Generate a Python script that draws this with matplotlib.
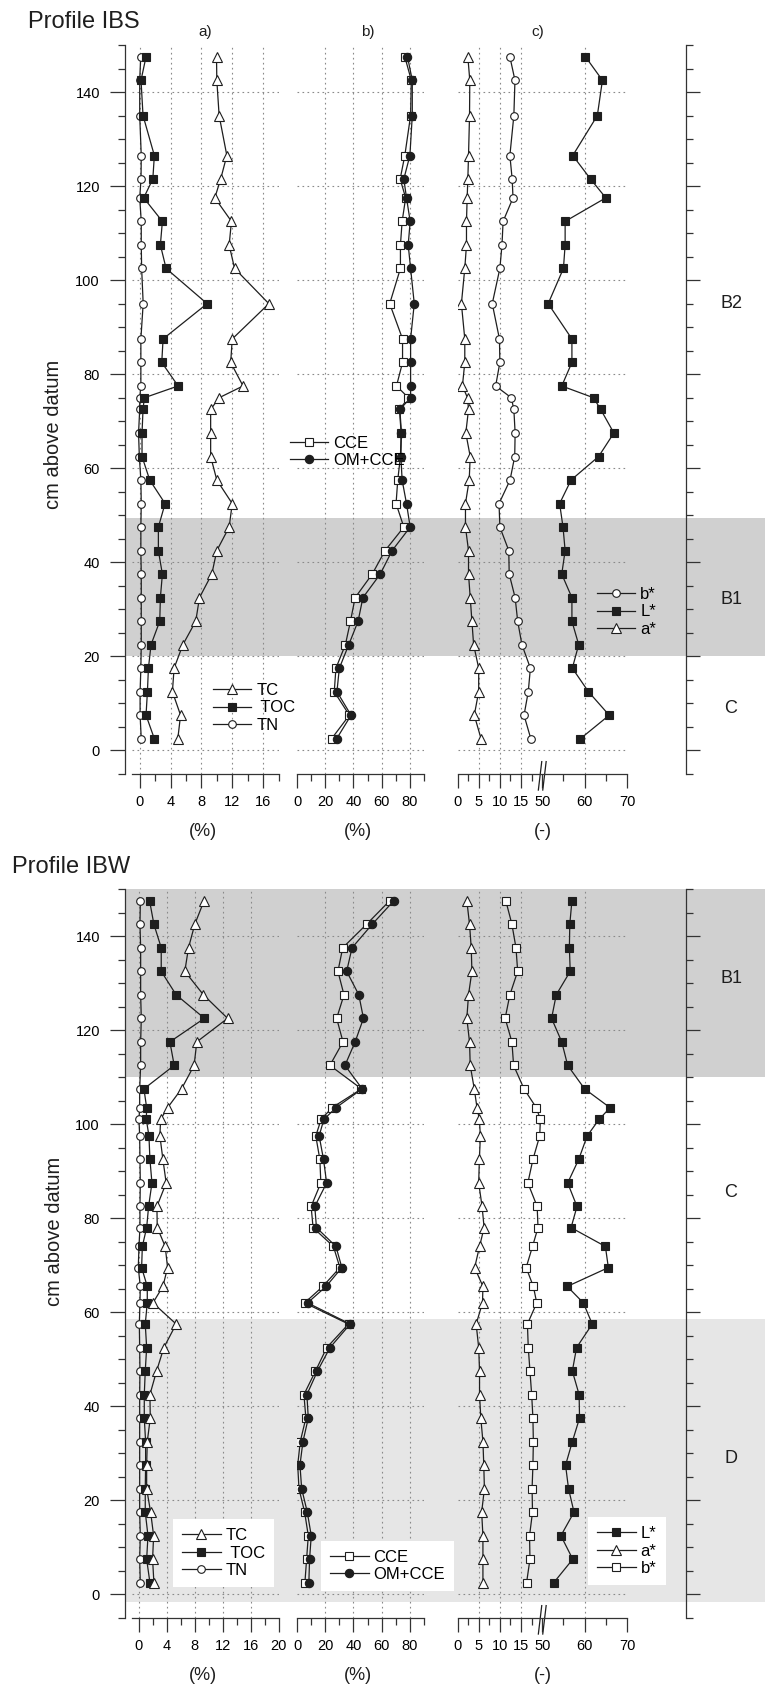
import numpy as np
import matplotlib.pyplot as plt
from matplotlib.ticker import MultipleLocator, FixedLocator
from matplotlib.transforms import blended_transform_factory

plt.rcParams['font.family'] = ['Liberation Sans', 'DejaVu Sans']

# %% data (depth in cm above datum)

ibs_depth = [2.5, 7.5, 12.5, 17.5, 22.5, 27.5, 32.5, 37.5, 42.5, 47.5, 52.5, 57.5, 62.5, 67.5, 72.5,
             75, 77.5, 82.5, 87.5, 95, 102.5, 107.5, 112.5, 117.5, 121.5, 126.5, 135, 142.5, 147.5]
ibs_tn = [0.2, 0.05, 0.05, 0.15, 0.2, 0.2, 0.2, 0.2, 0.15, 0.15, 0.2, 0.15, -0.05, -0.15, 0.0,
          0.0, 0.15, 0.15, 0.15, 0.45, 0.25, 0.2, 0.2, 0.0, 0.17, 0.2, 0.0, 0.0, 0.13]
ibs_toc = [1.9, 0.82, 1.0, 1.13, 1.47, 2.6, 2.68, 2.94, 2.42, 2.42, 3.29, 1.3, 0.3, 0.3, 0.43,
           0.6, 4.98, 2.86, 3.03, 8.74, 3.42, 2.68, 2.94, 0.52, 1.7, 1.9, 0.43, 0.17, 0.82]
ibs_tc = [4.94, 5.3, 4.24, 4.46, 5.6, 7.27, 7.75, 9.35, 10.0, 11.6, 12.0, 10.0, 9.2, 9.2, 9.2,
          10.3, 13.4, 11.8, 12.0, 16.75, 12.3, 11.6, 11.9, 9.74, 10.5, 11.3, 10.3, 10.0, 9.96]
ibs_cce = [24.5, 37.1, 26.4, 27.6, 34.3, 37.9, 41.2, 53.3, 62.4, 75.7, 70.2, 71.4, 73.3, 73.8, 72.6,
           79.0, 70.5, 74.8, 74.8, 65.7, 73.3, 73.3, 74.5, 77.0, 73.1, 76.4, 80.5, 81.0, 76.4]
ibs_om_cce = [28.1, 38.3, 28.3, 30.0, 36.7, 43.3, 46.7, 59.0, 67.4, 80.2, 77.6, 74.5, 73.6, 74.0, 72.9,
              80.5, 80.5, 80.5, 80.5, 83.1, 80.5, 78.8, 80.2, 77.6, 75.7, 80.0, 81.7, 81.7, 78.3]
ibs_a = [5.56, 3.96, 5.0, 5.0, 3.8, 3.4, 3.0, 2.6, 2.6, 1.88, 1.88, 2.76, 3.0, 1.96, 2.6,
         2.36, 1.16, 1.72, 1.72, 0.92, 1.72, 2.12, 2.12, 2.28, 2.44, 2.6, 2.84, 2.9, 2.44]
ibs_b = [17.3, 15.7, 16.7, 17.2, 15.2, 14.2, 13.6, 12.2, 12.1, 10.0, 9.8, 12.4, 13.5, 13.6, 13.3,
         12.7, 9.0, 10.0, 9.9, 8.2, 10.0, 10.5, 10.76, 13.1, 12.9, 12.36, 13.3, 13.56, 12.36]
ibs_l = [59.0, 65.8, 60.9, 57.1, 58.6, 57.0, 57.0, 54.6, 55.4, 54.9, 54.1, 56.8, 63.3, 66.9, 63.8,
         62.1, 54.6, 57.0, 57.0, 51.4, 55.0, 55.4, 55.4, 65.0, 61.4, 57.2, 63.0, 64.2, 60.2]

ibw_depth = [2.5, 7.5, 12.5, 17.5, 22.5, 27.5, 32.5, 37.5, 42.5, 47.5, 52.5, 57.5, 62, 65.5, 69.5, 74,
             78, 82.5, 87.5, 92.5, 97.5, 101, 103.5, 107.5, 112.5, 117.5, 122.5, 127.5, 132.5, 137.5,
             142.5, 147.5]
ibw_tn = [0.19, 0.1, 0.19, 0.1, 0.1, 0.1, 0.1, 0.1, 0.1, 0.14, 0.1, 0.05, 0.14, 0.19, -0.1, 0.0,
          0.14, 0.14, 0.19, 0.14, 0.1, 0.0, 0.1, 0.1, 0.24, 0.24, 0.33, 0.24, 0.24, 0.24, 0.14, 0.2]
ibw_toc = [1.57, 1.1, 1.29, 0.9, 0.9, 0.95, 0.95, 0.76, 0.76, 0.9, 1.1, 0.9, 1.19, 1.19, 0.38, 0.48,
           1.1, 1.38, 1.86, 1.57, 1.43, 1.05, 1.1, 0.71, 5.05, 4.43, 9.38, 5.33, 3.19, 3.19, 2.14, 1.52]
ibw_tc = [2.14, 1.95, 2.1, 1.67, 1.1, 1.1, 1.19, 1.62, 1.57, 2.52, 3.57, 5.33, 2.0, 3.43, 4.1, 3.76,
          2.62, 2.57, 3.9, 3.43, 3.0, 3.1, 4.1, 6.1, 7.9, 8.29, 12.7, 9.24, 6.57, 7.1, 8.0, 9.33]
ibw_cce = [5.6, 6.8, 8.0, 5.4, 1.4, 0.5, 2.3, 6.3, 4.9, 13.1, 21.1, 36.5, 5.4, 18.3, 30.4, 25.8,
           11.4, 10.0, 16.9, 16.2, 13.3, 17.1, 24.8, 45.7, 23.3, 32.6, 28.1, 33.3, 29.0, 32.4, 49.3, 65.7]
ibw_om_cce = [8.4, 8.9, 10.1, 7.3, 3.3, 2.1, 4.2, 8.0, 7.0, 14.5, 23.4, 37.7, 7.5, 20.6, 31.8, 27.6,
              13.8, 12.6, 21.0, 18.8, 15.7, 19.0, 27.6, 46.2, 34.0, 41.2, 47.1, 43.8, 35.2, 39.0, 53.3, 68.6]
ibw_a = [6.0, 6.0, 6.0, 5.7, 6.35, 6.2, 6.0, 5.5, 5.2, 5.2, 5.0, 4.4, 5.9, 6.0, 4.05, 5.2,
         6.28, 5.8, 5.0, 5.16, 5.4, 5.16, 4.6, 3.96, 3.0, 2.84, 2.2, 2.6, 3.4, 3.24, 2.84, 2.2]
ibw_b = [16.3, 17.1, 17.0, 17.7, 17.6, 17.8, 17.9, 17.8, 17.5, 17.1, 16.7, 16.5, 18.7, 17.9, 16.2, 17.7,
         19.0, 18.8, 16.6, 17.8, 19.4, 19.56, 18.6, 15.7, 13.24, 12.84, 11.24, 12.36, 14.2, 13.8, 12.84, 11.4]
ibw_l = [52.7, 57.2, 54.4, 57.5, 56.2, 55.5, 57.1, 58.8, 58.7, 57.1, 58.1, 61.8, 59.7, 55.9, 65.6, 64.9,
         56.8, 58.2, 56.0, 58.6, 60.6, 63.4, 66.0, 60.0, 56.0, 54.6, 52.2, 53.3, 56.6, 56.4, 56.5, 57.0]

ibs_horizons = ['B2', 'B1', 'C']
ibs_horizon_depth = [95, 32, 9]
ibs_bands = [(20, 49.5, '#d0d0d0')]
ibw_horizons = ['B1', 'C', 'D']
ibw_horizon_depth = [131, 85.5, 29]
ibw_bands = [(110, 150, '#d0d0d0'), (-1.5, 58.5, '#e6e6e6')]

# %% layout helpers (pixel boxes on a 765 x 1691 canvas)

W, H = 765, 1691
INK = '#1e1e1e'
GRID = dict(color='#8a8a8a', lw=0.8, ls=(0, (1.5, 3)))


def fbox(x0, y0, x1, y1):
    return [x0 / W, 1 - y1 / H, (x1 - x0) / W, (y1 - y0) / H]


def fpt(x, y):
    return (x / W, 1 - y / H)


def fwd(v):
    v = np.asarray(v, dtype=float)
    return np.where(v <= 20, v, np.where(v >= 50, v - 30, 20.0))


def inv(u):
    u = np.asarray(u, dtype=float)
    return np.where(u < 20, u, u + 30)


def line(ax, x, y, kind, label):
    styles = {'tri': dict(marker='^', mfc='white', ms=7),
              'osq': dict(marker='s', mfc='white', ms=5.5),
              'fsq': dict(marker='s', mfc=INK, ms=5.5),
              'ocirc': dict(marker='o', mfc='white', ms=5.5),
              'fcirc': dict(marker='o', mfc=INK, ms=6)}
    return ax.plot(x, y, color=INK, lw=0.9, mec=INK, mew=0.8, label=label, **styles[kind])[0]


def panel(ax, lo, hi, majors, minors, skip=()):
    ax.set_xlim(lo, hi)
    ax.set_ylim(-5, 150)
    ax.patch.set_alpha(0)
    for s in ['top', 'right', 'left']:
        ax.spines[s].set_visible(False)
    ax.spines['bottom'].set_linewidth(0.9)
    ax.spines['bottom'].set_color('#333333')
    ax.xaxis.set_major_locator(FixedLocator(majors))
    ax.xaxis.set_minor_locator(FixedLocator(minors))
    ax.tick_params(axis='x', which='major', length=10, width=0.9, pad=5, labelsize=10.5, color='#333333')
    ax.tick_params(axis='x', which='minor', length=5, width=0.9, color='#333333')
    ax.set_yticks(range(0, 141, 20))
    ax.tick_params(axis='y', left=False, labelleft=False)
    ax.yaxis.grid(True, **GRID)
    for t in majors:
        if lo < t < hi and t not in skip:
            ax.axvline(t, **GRID)


def legend(ax, handles, x, y, framed):
    leg = ax.legend(handles=handles, loc='center left', bbox_to_anchor=fpt(x, y),
                    bbox_transform=ax.figure.transFigure, fontsize=12, numpoints=1,
                    handlelength=2.3, handletextpad=0.3, labelspacing=0.15,
                    borderpad=0.55 if framed else 0.0, borderaxespad=0,
                    frameon=framed, fancybox=False)
    if framed:
        leg.get_frame().set_facecolor('white')
        leg.get_frame().set_edgecolor('none')
        leg.get_frame().set_alpha(1)


def profile(fig, y_top, y_bot, a_hi, title, title_xy, ylabel_xy, depth, tn, toc, tc, cce, omc,
            la, lb, ll, horizons, horizon_depth, bands, first, leg_xy, framed):
    # depth axis with shading, horizon labels
    axd = fig.add_axes(fbox(125, y_top, 765, y_bot))
    axd.set_ylim(-5, 150)
    axd.set_xlim(0, 1)
    for s in ['top', 'right', 'bottom']:
        axd.spines[s].set_visible(False)
    axd.spines['left'].set_linewidth(0.9)
    axd.spines['left'].set_color('#333333')
    axd.set_xticks([])
    axd.yaxis.set_major_locator(MultipleLocator(20))
    axd.yaxis.set_minor_locator(MultipleLocator(5))
    axd.tick_params(axis='y', which='major', length=11, width=0.9, pad=7, labelsize=10.5, color='#333333')
    axd.tick_params(axis='y', which='minor', length=5, width=0.9, color='#333333')
    for lo, hi, c in bands:
        axd.axhspan(lo, hi, color=c, lw=0, zorder=0)
    tr = blended_transform_factory(axd.transAxes, axd.transData)
    for name, d in zip(horizons, horizon_depth):
        axd.text((731 - 125) / 640, d, name, transform=tr, ha='center', va='center', fontsize=13, color=INK)

    axr = fig.add_axes(fbox(686, y_top, 765, y_bot))
    axr.set_ylim(-5, 150)
    axr.patch.set_alpha(0)
    for s in ['top', 'right', 'bottom']:
        axr.spines[s].set_visible(False)
    axr.spines['left'].set_linewidth(0.9)
    axr.spines['left'].set_color('#333333')
    axr.set_xticks([])
    axr.yaxis.set_major_locator(MultipleLocator(20))
    axr.yaxis.set_minor_locator(MultipleLocator(5))
    axr.tick_params(axis='y', which='both', direction='in', labelleft=False, width=0.9, color='#333333')
    axr.tick_params(axis='y', which='major', length=10)
    axr.tick_params(axis='y', which='minor', length=5)

    # a) TC / TOC / TN
    ax_a = fig.add_axes(fbox(132, y_top, 278.5, y_bot))
    panel(ax_a, -1, a_hi, list(range(0, a_hi + 1, 4)), list(range(2, a_hi + 1, 4)))
    h_tn = line(ax_a, tn, depth, 'ocirc', 'TN')
    h_toc = line(ax_a, toc, depth, 'fsq', ' TOC')
    h_tc = line(ax_a, tc, depth, 'tri', 'TC')
    legend(ax_a, [h_tc, h_toc, h_tn], *leg_xy[0], framed)

    # b) CCE / OM+CCE
    ax_b = fig.add_axes(fbox(297, y_top, 424, y_bot))
    panel(ax_b, 0, 90, [0, 20, 40, 60, 80], [10, 30, 50, 70, 90])
    h_cce = line(ax_b, cce, depth, 'osq', 'CCE')
    h_om = line(ax_b, omc, depth, 'fcirc', 'OM+CCE')
    legend(ax_b, [h_cce, h_om], *leg_xy[1], framed)

    # c) colour a*, b*, L* on a broken axis
    ax_c = fig.add_axes(fbox(457.5, y_top, 627, y_bot))
    ax_c.set_xscale('function', functions=(fwd, inv))
    panel(ax_c, 0, 70, [0, 5, 10, 15, 50, 60, 70], [2.5, 7.5, 12.5, 17.5, 55, 65], skip=(50,))
    h_a = line(ax_c, la, depth, 'tri', 'a*')
    h_b = line(ax_c, lb, depth, 'ocirc' if first else 'osq', 'b*')
    h_l = line(ax_c, ll, depth, 'fsq', 'L*')
    legend(ax_c, [h_b, h_l, h_a] if first else [h_l, h_a, h_b], *leg_xy[2], framed)
    xa = float((fwd(50) - fwd(0)) / (fwd(70) - fwd(0)))
    for dx in (-0.013, 0.013):
        ax_c.plot([xa + dx - 0.01, xa + dx + 0.01], [-0.022, 0.017], transform=ax_c.transAxes,
                  clip_on=False, color=INK, lw=0.9)

    # texts
    fig.text(*fpt(*title_xy), title, fontsize=17, ha='left', va='center', color=INK)
    fig.text(*fpt(*ylabel_xy), 'cm above datum', fontsize=14.5, rotation=90, ha='center', va='center', color=INK)
    y_lab = y_bot + 57
    fig.text(*fpt(203, y_lab), '(%)', fontsize=13, ha='center', va='center', color=INK)
    fig.text(*fpt(358, y_lab), '(%)', fontsize=13, ha='center', va='center', color=INK)
    fig.text(*fpt(543, y_lab), '(-)', fontsize=13, ha='center', va='center', color=INK)
    if first:
        for lab, x in zip(['a)', 'b)', 'c)'], [205, 368, 538]):
            fig.text(*fpt(x, 32), lab, fontsize=11, ha='center', va='center', color=INK)


fig = plt.figure(figsize=(W / 100, H / 100), dpi=100)

profile(fig, 45, 774, 18, 'Profile IBS', (28, 22), (54, 434), ibs_depth, ibs_tn, ibs_toc, ibs_tc,
        ibs_cce, ibs_om_cce, ibs_a, ibs_b, ibs_l, ibs_horizons, ibs_horizon_depth, ibs_bands, True,
        [(213, 708), (290, 452), (597, 612)], False)
profile(fig, 889, 1618, 20, 'Profile IBW', (12, 867), (55, 1231), ibw_depth, ibw_tn, ibw_toc, ibw_tc,
        ibw_cce, ibw_om_cce, ibw_a, ibw_b, ibw_l, ibw_horizons, ibw_horizon_depth, ibw_bands, False,
        [(173, 1553), (321, 1566), (588, 1551)], True)

fig.savefig('out.png', dpi=100)
